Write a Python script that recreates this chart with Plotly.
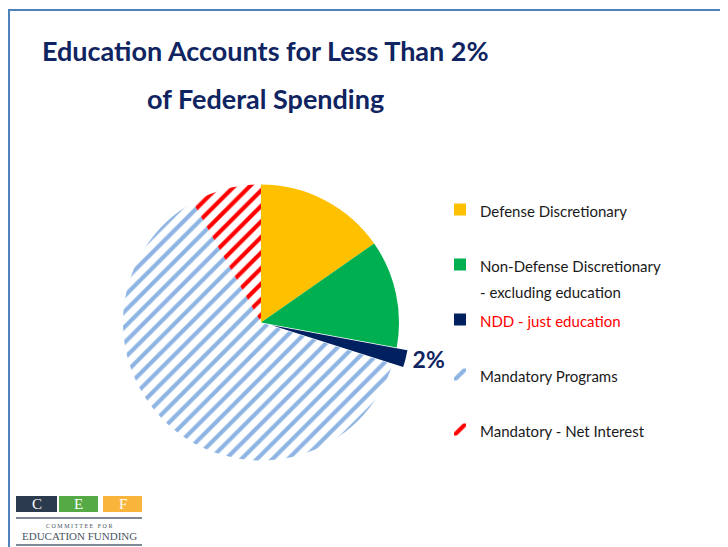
import plotly.graph_objects as go

# The page body has an 8px margin, so the figure is drawn 8px in from the
# window's top-left corner; size it to fill the rest of the 728x547 window.
OFF = 8
W, H = 728 - OFF, 547 - OFF

# ---- data ----
categories = [
    "Defense Discretionary",
    "Non-Defense Discretionary<br>- excluding education",
    "NDD - just education",
    "Mandatory Programs",
    "Mandatory - Net Interest",
]
shares = [15.3, 12.6, 2.0, 61.9, 8.2]
title_lines = ["Education Accounts for Less Than 2%", "of Federal Spending"]
logo_letters = ["C", "E", "F"]

# ---- styles ----
slice_colors = ["#FFC000", "#00B050", "#002060", "#8DB4E2", "#FF0000"]
pattern_shapes = ["", "", "", "/", "/"]
legend_text_colors = ["#1A1A1A", "#1A1A1A", "#FF0000", "#1A1A1A", "#1A1A1A"]
pulls = [0, 0, 0.08, 0, 0]
NAVY = "#0F2461"


def fx(p):
    return (p - OFF) / W


def fy(p):
    return 1 - (p - OFF) / H


labels = []
for c, col in zip(categories, legend_text_colors):
    lines = c.split("<br>")
    if len(lines) == 1:
        lines.append(" ")
    labels.append("<br>".join(
        f"<span style='font-size:15px;color:{col}'>{ln}</span>" for ln in lines))

cx, cy, r = 261, 322.5, 138
R = r * (1 + max(pulls))

fig = go.Figure(go.Pie(
    labels=labels,
    values=shares,
    sort=False,
    direction="clockwise",
    rotation=0,
    pull=pulls,
    marker=dict(
        colors=slice_colors,
        line=dict(width=0),
        pattern=dict(shape=pattern_shapes, fgcolor=slice_colors,
                     bgcolor="white", fillmode="replace",
                     size=11, solidity=0.38),
    ),
    textinfo="percent",
    texttemplate="%{percent:.0%}",
    textposition=["none", "none", "outside", "none", "none"],
    textfont=dict(family="Lato", size=23, color=NAVY, weight="bold"),
    domain=dict(x=[fx(cx - R), fx(cx + R)], y=[fy(cy + R), fy(cy - R)]),
    hoverinfo="skip",
))

annotations = []
for txt, py in zip(title_lines, [51, 99]):
    annotations.append(dict(
        text=txt, x=fx(265), y=fy(py), xref="paper", yref="paper",
        xanchor="center", yanchor="middle", showarrow=False,
        font=dict(family="Lato", size=27, color=NAVY, weight="bold")))

shapes = [
    dict(type="rect", xref="paper", yref="paper",
         x0=fx(9), x1=fx(780), y0=fy(600), y1=fy(10),
         line=dict(color="#4F81BD", width=2), fillcolor="rgba(0,0,0,0)"),
]

# logo
logo_boxes = [(16, 57, "#2B3A4C"), (59, 98, "#55AA45"), (103, 142, "#F9B43C")]
for (x0, x1, col), letter in zip(logo_boxes, logo_letters):
    shapes.append(dict(type="rect", xref="paper", yref="paper",
                       x0=fx(x0), x1=fx(x1), y0=fy(512), y1=fy(496),
                       line=dict(width=0), fillcolor=col))
    annotations.append(dict(text=letter, x=fx((x0 + x1) / 2), y=fy(504),
                            xref="paper", yref="paper", showarrow=False,
                            xanchor="center", yanchor="middle",
                            font=dict(family="Liberation Serif", size=15, color="white")))
for py in [518, 545]:
    shapes.append(dict(type="line", xref="paper", yref="paper",
                       x0=fx(16), x1=fx(142), y0=fy(py), y1=fy(py),
                       line=dict(color="#7E8896", width=2)))
annotations.append(dict(text="C O M M I T T E E   F O R", x=fx(79), y=fy(526),
                        xref="paper", yref="paper", showarrow=False,
                        xanchor="center", yanchor="middle",
                        font=dict(family="Liberation Serif", size=6, color="#4A5563")))
annotations.append(dict(text="EDUCATION FUNDING", x=fx(79), y=fy(536),
                        xref="paper", yref="paper", showarrow=False,
                        xanchor="center", yanchor="middle",
                        font=dict(family="Liberation Serif", size=11, color="#4A5563")))

fig.update_layout(
    width=W, height=H,
    margin=dict(l=0, r=0, t=0, b=0),
    paper_bgcolor="white", plot_bgcolor="white",
    showlegend=True,
    legend=dict(x=fx(440), y=fy(190), xanchor="left", yanchor="top",
                font=dict(family="Lato", size=20, color="#1A1A1A"),
                valign="top", bgcolor="rgba(0,0,0,0)", traceorder="normal"),
    annotations=annotations,
    shapes=shapes,
)

fig.write_html("out.html")
